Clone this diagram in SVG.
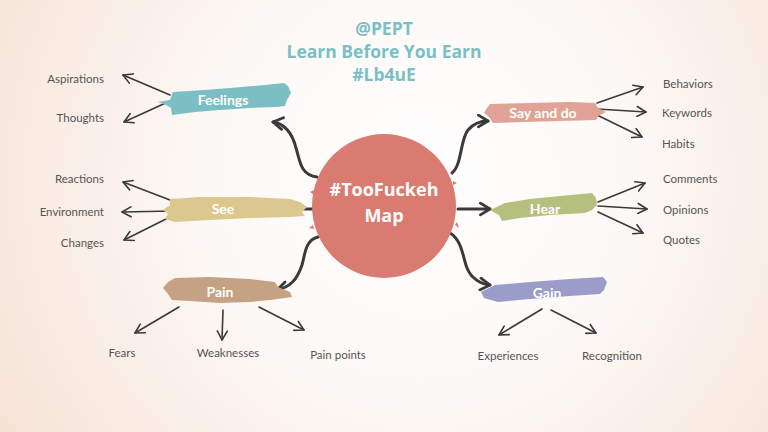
<svg xmlns="http://www.w3.org/2000/svg" width="768" height="432" viewBox="0 0 768 432">
<defs>
<radialGradient id="bg" cx="420" cy="180" r="500" gradientUnits="userSpaceOnUse">
<stop offset="0" stop-color="#ffffff"/>
<stop offset="0.45" stop-color="#fcf8f5"/>
<stop offset="1" stop-color="#f6e2d4"/>
</radialGradient>
<marker id="leaf" viewBox="0 0 12 12" refX="10" refY="6" markerWidth="12" markerHeight="12" markerUnits="userSpaceOnUse" orient="auto">
<path d="M1,1 L10,6 L1,11" fill="none" stroke="#3a3a3a" stroke-width="1.6" stroke-linecap="round" stroke-linejoin="round"/>
</marker>
<marker id="main" viewBox="0 0 14 14" refX="11" refY="7" markerWidth="15" markerHeight="15" markerUnits="userSpaceOnUse" orient="auto">
<path d="M2,1.5 L11,7 L2,12.5" fill="none" stroke="#3a3a3a" stroke-width="2.6" stroke-linecap="round" stroke-linejoin="round"/>
</marker>
</defs>
<style>
.title{font-family:"Open Sans",Lato,sans-serif;font-weight:bold;font-size:17.5px;fill:#7bbfc4;text-anchor:middle}
.lab{font-family:Lato,"Open Sans",sans-serif;font-weight:bold;font-size:14px;fill:#ffffff;text-anchor:middle;dominant-baseline:central}
.ctr{font-family:"Open Sans",Lato,sans-serif;font-weight:bold;font-size:18px;fill:#ffffff;text-anchor:middle}
.leaf{font-family:Lato,"Open Sans",sans-serif;font-size:11.5px;fill:#555555;dominant-baseline:central}
.la{stroke:#3a3a3a;stroke-width:1.6;fill:none;stroke-linecap:round;marker-end:url(#leaf)}
.ma{stroke:#3a3a3a;stroke-width:3;fill:none;stroke-linecap:round;marker-end:url(#main)}
</style>
<rect width="768" height="432" fill="url(#bg)"/>

<g id="title">
<text class="title" x="384" y="35">@PEPT</text>
<text class="title" x="384" y="58">Learn Before You Earn</text>
<text class="title" x="384" y="81">#Lb4uE</text>
</g>

<g id="connectors">
<path class="ma" d="M317,177 C300,175 300,160 296,148 C292,132 285,124 273,122"/>
<path class="ma" d="M313,209 L277,209"/>
<path class="ma" d="M318,237 C305,240 305,255 302,265 C297,280 290,287 277,290"/>
<path class="ma" d="M452,173 C462,165 460,140 468,130 C474,123 480,121 488,121"/>
<path class="ma" d="M458,209 L490,209"/>
<path class="ma" d="M450,233 C462,240 463,258 467,268 C471,278 480,284 490,285"/>

<path class="la" d="M170,95 L123,75"/>
<path class="la" d="M170,101 L124,122"/>
<path class="la" d="M170,200 L123,182"/>
<path class="la" d="M173,211 L122,212"/>
<path class="la" d="M170,217 L124,240"/>
<path class="la" d="M179,307 L135,333"/>
<path class="la" d="M223,310 L222,340"/>
<path class="la" d="M259,307 L304,330"/>
<path class="la" d="M597,103 L643,87"/>
<path class="la" d="M597,109 L646,112"/>
<path class="la" d="M597,115 L642,137"/>
<path class="la" d="M598,202 L645,183"/>
<path class="la" d="M598,206 L647,209"/>
<path class="la" d="M598,212 L643,233"/>
<path class="la" d="M542,309 L499,335"/>
<path class="la" d="M551,310 L596,333"/>
</g>

<g id="center">
<circle cx="384" cy="206" r="72" fill="#d97b70"/>
<path d="M314,190 l-4,2 l4,3 z M313,225 l-4,3 l5,1 z M455,225 l4,3 l-2,-6 z M453,185 l4,-2 l-4,-2 z" fill="#d97b70"/>
<text class="ctr" x="384" y="196">#TooFuckeh</text>
<text class="ctr" x="384" y="222">Map</text>
</g>

<g id="feelings">
<path d="M158,102 L170,100 L173,92 L190,91 L230,88 L265,85 L284,83 L288,86 L291,93 L287,100 L285,106 L276,107 L250,108 L220,110 L195,112 L172,115 L171,108 L166,105 Z" fill="#7bbfc4"/>
<text class="lab" x="223" y="99">Feelings</text>
</g>
<g id="see">
<path d="M170,199 L200,197 L250,197 L290,199 L300,202 L307,207 L302,212 L305,216 L290,217 L250,218 L210,220 L175,222 L165,219 L168,214 L163,210 L170,205 Z" fill="#dcc88f"/>
<text class="lab" x="223" y="208">See</text>
</g>
<g id="pain">
<path d="M175,278 L210,277 L250,279 L275,282 L278,287 L290,292 L292,297 L270,300 L250,302 L220,303 L190,301 L172,300 L168,294 L163,288 L168,282 Z" fill="#c4a283"/>
<text class="lab" x="220" y="291">Pain</text>
</g>
<g id="sayanddo">
<path d="M490,104 L530,103 L570,102 L595,103 L598,108 L606,112 L598,116 L596,120 L560,121 L525,122 L493,123 L489,117 L484,113 L487,108 Z" fill="#e0a395"/>
<text class="lab" x="543" y="112">Say and do</text>
</g>
<g id="hear">
<path d="M490,210 L505,203 L530,199 L560,196 L592,193 L596,198 L597,205 L592,210 L585,213 L550,215 L520,218 L502,221 L499,215 Z" fill="#b5c07e"/>
<text class="lab" x="545" y="208">Hear</text>
</g>
<g id="gain">
<path d="M481,292 L495,285 L530,282 L570,279 L603,277 L607,282 L604,290 L600,294 L570,296 L530,299 L498,302 L484,298 Z" fill="#9b9cc9"/>
<text class="lab" x="547" y="292">Gain</text>
</g>

<g id="leaves">
<text class="leaf" x="104" y="78" text-anchor="end">Aspirations</text>
<text class="leaf" x="104" y="117" text-anchor="end">Thoughts</text>
<text class="leaf" x="104" y="178" text-anchor="end">Reactions</text>
<text class="leaf" x="104" y="211" text-anchor="end">Environment</text>
<text class="leaf" x="104" y="242" text-anchor="end">Changes</text>
<text class="leaf" x="122" y="352" text-anchor="middle">Fears</text>
<text class="leaf" x="228" y="352" text-anchor="middle">Weaknesses</text>
<text class="leaf" x="338" y="354" text-anchor="middle">Pain points</text>
<text class="leaf" x="663" y="83">Behaviors</text>
<text class="leaf" x="662" y="112">Keywords</text>
<text class="leaf" x="662" y="143">Habits</text>
<text class="leaf" x="663" y="178">Comments</text>
<text class="leaf" x="663" y="209">Opinions</text>
<text class="leaf" x="663" y="239">Quotes</text>
<text class="leaf" x="508" y="355" text-anchor="middle">Experiences</text>
<text class="leaf" x="612" y="355" text-anchor="middle">Recognition</text>
</g>
</svg>
